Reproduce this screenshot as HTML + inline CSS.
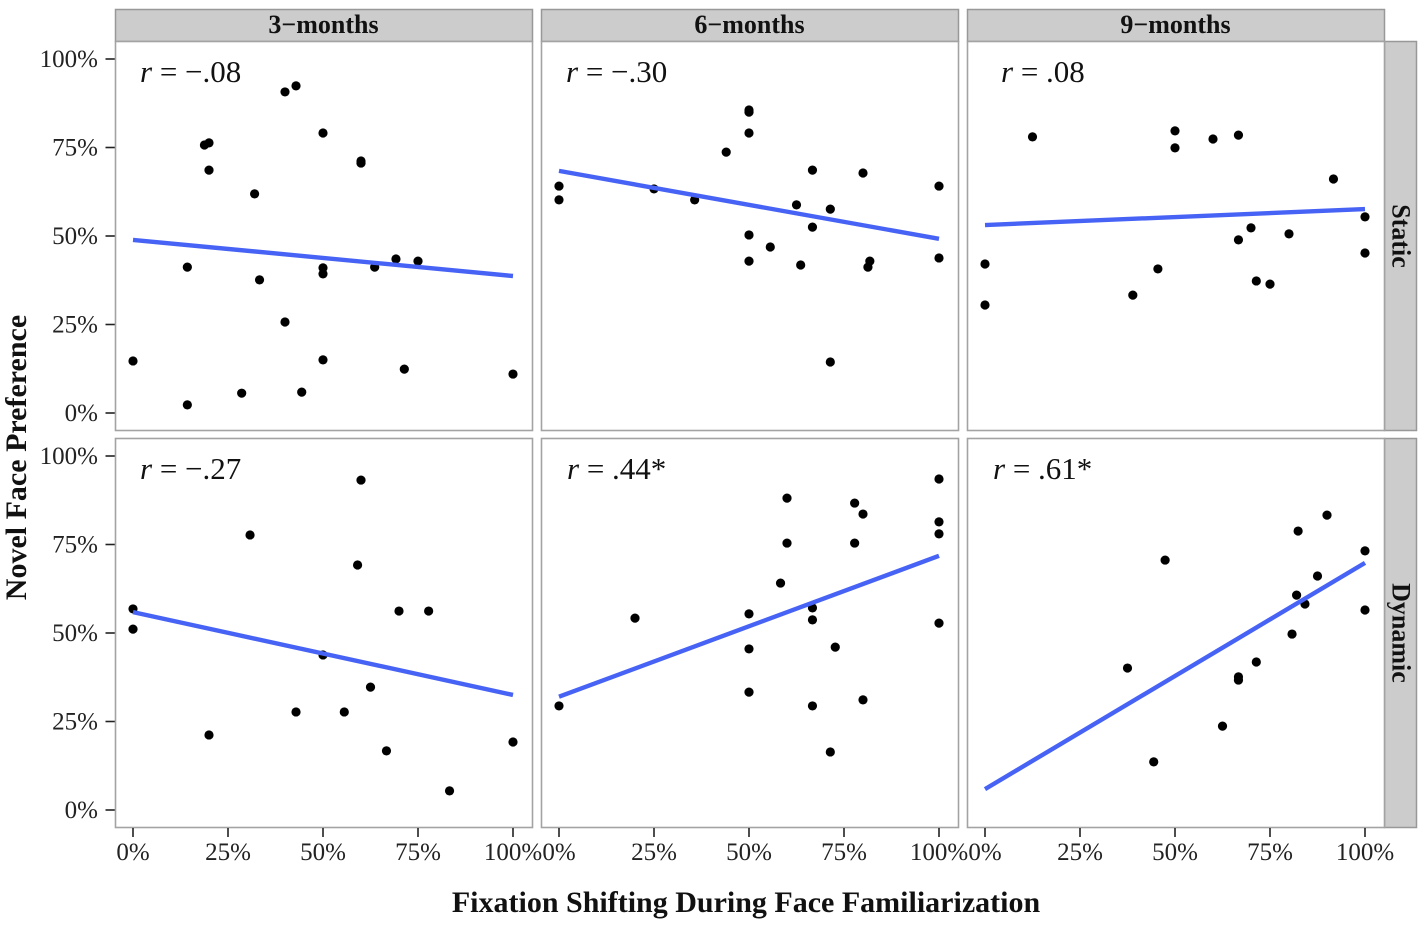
<!DOCTYPE html>
<html lang="en">
<head>
<meta charset="utf-8">
<title>Novel Face Preference by Fixation Shifting</title>
<style>
html,body{margin:0;padding:0;background:#fff;}
svg{display:block;font-family:"Liberation Serif",serif;}
</style>
</head>
<body>
<svg id="chart" xmlns="http://www.w3.org/2000/svg" width="1422" height="926" viewBox="0 0 1422 926"></svg>
<script>
const ageLabels = ['3\u2212months', '6\u2212months', '9\u2212months'];
const rowLabels = ['Static', 'Dynamic'];
const xTickValues = [0, 25, 50, 75, 100];
const yTickValues = [0, 25, 50, 75, 100];
const xTitle = 'Fixation Shifting During Face Familiarization';
const yTitle = 'Novel Face Preference';

const static3x = [0,14.3,28.6,44.4,40,33.3,14.3,50,71.4,100,50,50,63.6,69.2,75,20,32,18.8,20,40,42.9,50,60,60];
const static3y = [14.7,2.3,5.6,5.9,25.7,37.6,41.2,15,12.4,11,41,39.3,41.2,43.5,42.9,68.6,61.9,75.7,76.3,90.7,92.4,79.1,71.2,70.6];
const static6x = [0,0,25,35.7,44,50,50,50,50,50,55.6,62.5,63.6,66.7,66.7,71.4,71.4,80,81.3,81.8,100,100];
const static6y = [64.1,60.2,63.3,60.2,73.7,85.6,85,79.1,50.3,42.9,46.9,58.8,41.8,68.6,52.5,57.6,14.4,67.8,41.2,42.9,64.1,43.8];
const static9x = [0,0,12.5,38.9,45.5,50,50,60,66.7,66.7,70,71.4,75,80,91.7,100,100];
const static9y = [42.1,30.5,78,33.3,40.7,79.7,74.9,77.4,78.5,48.9,52.3,37.3,36.4,50.6,66.1,55.4,45.2];
const dynamic3x = [0,0,20,30.8,42.9,50,55.6,59.1,60,62.5,66.7,70,77.8,83.3,100];
const dynamic3y = [56.8,51.1,21.2,77.7,27.7,43.8,27.7,69.2,93.2,34.7,16.7,56.2,56.2,5.4,19.2];
const dynamic6x = [0,20,50,50,50,58.3,60,60,66.7,66.7,66.7,71.4,72.7,77.8,77.8,80,80,100,100,100,100];
const dynamic6y = [29.4,54.2,55.4,45.5,33.3,64.1,88.1,75.4,57.1,53.7,29.4,16.4,46,86.7,75.4,83.6,31.1,93.5,81.4,78,52.8];
const dynamic9x = [37.5,44.4,47.4,62.5,66.7,66.7,71.4,80.8,82,82.4,84.2,87.5,90,100,100];
const dynamic9y = [40.1,13.6,70.6,23.7,37.6,36.7,41.8,49.7,60.7,78.8,58.2,66.1,83.3,73.2,56.5];

const trendStart = [[48.9,68.4,53.1],[55.9,32,5.9]];
const trendEnd = [[38.7,49.2,57.6],[32.5,71.8,69.8]];
const corrLabels = [['\u2212.08','\u2212.30','.08'],['\u2212.27','.44*','.61*']];

const seriesX = [[static3x,static6x,static9x],[dynamic3x,dynamic6x,dynamic9x]];
const seriesY = [[static3y,static6y,static9y],[dynamic3y,dynamic6y,dynamic9y]];

const NS = 'http://www.w3.org/2000/svg';
const svg = document.getElementById('chart');
const colLeft = [115.5, 541.5, 967.5];
const rowTop = [41.5, 438.5];
const panelW = 417, panelH = 389;
const xScale = (c, v) => colLeft[c] + 17.5 + v * 3.8;
const yScale = (r, v) => rowTop[r] + 371.5 - v * 3.54;
const corrX = [[140,566,1001],[140,567,993]];

function make(tag, attrs, parent, text) {
  const el = document.createElementNS(NS, tag);
  for (const k in attrs) el.setAttribute(k, attrs[k]);
  if (text !== undefined) el.textContent = text;
  (parent || svg).appendChild(el);
  return el;
}

for (let c = 0; c < ageLabels.length; c++) {
  const strip = make('rect', {x: colLeft[c], y: 9.5, width: panelW, height: 32, fill: '#cccccc', stroke: '#989898', 'stroke-width': 1.5});
  
  
  const label = make('text', {x: colLeft[c] + panelW / 2 - 0.5, y: 33, 'text-anchor': 'middle', 'font-size': 26, 'font-weight': 'bold', fill: '#111'}, svg, ageLabels[c]);
  
  
}

for (let r = 0; r < rowLabels.length; r++) {
  const strip = make('rect', {x: 1384.5, y: rowTop[r], width: 32, height: panelH, fill: '#cccccc', stroke: '#989898', 'stroke-width': 1.5});
  
  
  const cy = rowTop[r] + panelH / 2;
  const label = make('text', {x: 1401, y: cy, 'text-anchor': 'middle', 'font-size': 26, 'font-weight': 'bold', fill: '#111', transform: 'rotate(90 1401 ' + cy + ')', 'dominant-baseline': 'central'}, svg, rowLabels[r]);
  
  

  yTickValues.forEach(function (v) {
    const y = yScale(r, v);
    const tick = make('line', {x1: 105.5, x2: 115, y1: y, y2: y, stroke: '#222', 'stroke-width': 1.6});
    
    
    const tl = make('text', {x: 98, y: y + 8, 'text-anchor': 'end', 'font-size': 25, fill: '#222'}, svg, v + '%');
    
    
  });

  for (let c = 0; c < ageLabels.length; c++) {
    const panel = make('rect', {x: colLeft[c], y: rowTop[r], width: panelW, height: panelH, fill: '#fff', stroke: '#a3a3a3', 'stroke-width': 1.6});
    
    

    const xs = seriesX[r][c], ys = seriesY[r][c];
    for (let i = 0; i < xs.length; i++) {
      const dot = make('circle', {cx: xScale(c, xs[i]), cy: yScale(r, ys[i]), r: 4.6, fill: '#000'});
      
      
    }

    const trend = make('line', {x1: xScale(c, 0), y1: yScale(r, trendStart[r][c]), x2: xScale(c, 100), y2: yScale(r, trendEnd[r][c]), stroke: '#4763f5', 'stroke-width': 4.4});
    
    

    const corr = make('text', {x: corrX[r][c], y: rowTop[r] + 40.5, 'font-size': 31, fill: '#111'});
    
    
    make('tspan', {'font-style': 'italic'}, corr, 'r');
    make('tspan', {}, corr, ' = ' + corrLabels[r][c]);
  }
}

for (let c = 0; c < ageLabels.length; c++) {
  xTickValues.forEach(function (v) {
    const x = xScale(c, v);
    const tick = make('line', {x1: x, x2: x, y1: 828, y2: 837, stroke: '#222', 'stroke-width': 1.6});
    
    
    const tl = make('text', {x: x, y: 860, 'text-anchor': 'middle', 'font-size': 25, fill: '#222'}, svg, v + '%');
    
    
  });
}

const xt = make('text', {x: 746, y: 912, 'text-anchor': 'middle', 'font-size': 30, 'font-weight': 'bold', fill: '#111'}, svg, xTitle);


const yt = make('text', {x: 26, y: 457.5, 'text-anchor': 'middle', 'font-size': 30, 'font-weight': 'bold', fill: '#111', transform: 'rotate(-90 26 457.5)'}, svg, yTitle);


</script>
</body>
</html>
